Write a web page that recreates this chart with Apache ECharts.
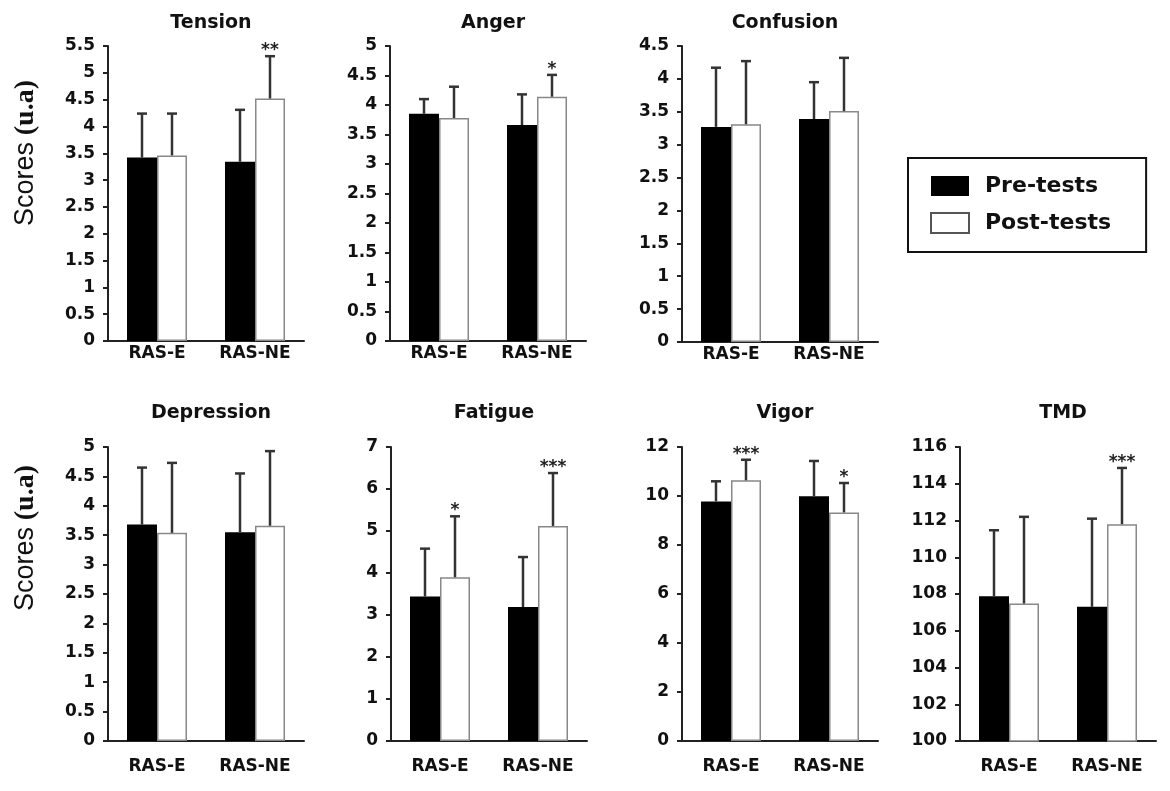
<!DOCTYPE html>
<html>
<head>
<meta charset="utf-8">
<script src="https://cdn.jsdelivr.net/npm/echarts@6/dist/echarts.min.js"></script>
<style>
  html, body { margin: 0; padding: 0; background: #fff; }
  #chart { width: 1170px; height: 791px; }
</style>
</head>
<body>
<div id="chart"></div>
<script>
// ---------- DATA ----------
const categories = ['RAS-E', 'RAS-NE'];
const seriesNames = ['Pre-tests', 'Post-tests'];
const panelTitles = ['Tension', 'Anger', 'Confusion', 'Depression', 'Fatigue', 'Vigor', 'TMD'];

const tensionPre = [3.42, 3.34];
const tensionPreSD = [0.82, 0.97];
const tensionPost = [3.46, 4.52];
const tensionPostSD = [0.78, 0.79];
const tensionSig = ['', '**'];

const angerPre = [3.85, 3.66];
const angerPreSD = [0.25, 0.52];
const angerPost = [3.78, 4.14];
const angerPostSD = [0.53, 0.37];
const angerSig = ['', '*'];

const confusionPre = [3.27, 3.39];
const confusionPreSD = [0.90, 0.56];
const confusionPost = [3.31, 3.51];
const confusionPostSD = [0.96, 0.81];
const confusionSig = ['', ''];

const depressionPre = [3.68, 3.55];
const depressionPreSD = [0.97, 1.00];
const depressionPost = [3.54, 3.66];
const depressionPostSD = [1.19, 1.27];
const depressionSig = ['', ''];

const fatiguePre = [3.44, 3.19];
const fatiguePreSD = [1.14, 1.19];
const fatiguePost = [3.90, 5.12];
const fatiguePostSD = [1.45, 1.26];
const fatigueSig = ['*', '***'];

const vigorPre = [9.78, 9.99];
const vigorPreSD = [0.82, 1.44];
const vigorPost = [10.64, 9.33];
const vigorPostSD = [0.84, 1.20];
const vigorSig = ['***', '*'];

const tmdPre = [107.88, 107.30];
const tmdPreSD = [3.59, 4.80];
const tmdPost = [107.48, 111.80];
const tmdPostSD = [4.72, 3.06];
const tmdSig = ['', '***'];

// y-axis tick settings per panel
const yMin = [0, 0, 0, 0, 0, 0, 100];
const yMax = [5.5, 5, 4.5, 5, 7, 12, 116];
const yStep = [0.5, 0.5, 0.5, 0.5, 1, 2, 2];

const yAxisNameMain = 'Scores';
const yAxisNameUnit = '(u.a)';

// ---------- LAYOUT ----------
const gridLeft = [108, 390, 682, 108, 391, 682, 960];
const gridTop = [46, 46, 46, 447, 447, 447, 447];
const gridW = 196;
const gridH = [295, 295, 296, 294, 294, 294, 294];
const BAR_W = 30;
const FONT = '"DejaVu Sans", sans-serif';

const panels = [
  [tensionPre, tensionPreSD, tensionPost, tensionPostSD, tensionSig],
  [angerPre, angerPreSD, angerPost, angerPostSD, angerSig],
  [confusionPre, confusionPreSD, confusionPost, confusionPostSD, confusionSig],
  [depressionPre, depressionPreSD, depressionPost, depressionPostSD, depressionSig],
  [fatiguePre, fatiguePreSD, fatiguePost, fatiguePostSD, fatigueSig],
  [vigorPre, vigorPreSD, vigorPost, vigorPostSD, vigorSig],
  [tmdPre, tmdPreSD, tmdPost, tmdPostSD, tmdSig]
];

function errRender(side, sig) {
  return function (params, api) {
    const idx = api.value(0);
    const mean = api.value(1);
    const top = api.value(2);
    const base = api.coord([idx, mean]);
    const tip = api.coord([idx, top]);
    const x = base[0] + side * BAR_W / 2;
    const st = { stroke: '#333', lineWidth: 2.5 };
    const children = [
      { type: 'line', shape: { x1: x, y1: base[1], x2: x, y2: tip[1] }, style: st },
      { type: 'line', shape: { x1: x - 5, y1: tip[1], x2: x + 5, y2: tip[1] }, style: st }
    ];
    const s = sig ? sig[params.dataIndex] : '';
    if (s) {
      children.push({
        type: 'text',
        style: {
          text: s, x: x, y: tip[1] + 3,
          textAlign: 'center', align: 'center',
          textVerticalAlign: 'bottom', verticalAlign: 'bottom',
          font: 'bold 17px ' + FONT, fill: '#222'
        }
      });
    }
    return { type: 'group', children: children };
  };
}

const grid = [], xAxis = [], yAxis = [], series = [], title = [];
panels.forEach(function (p, i) {
  const pre = p[0], preSD = p[1], post = p[2], postSD = p[3], sig = p[4];
  grid.push({ left: gridLeft[i], top: gridTop[i], width: gridW, height: gridH[i] });
  xAxis.push({
    type: 'category', gridIndex: i, data: categories,
    axisTick: { show: false },
    axisLine: { show: true, lineStyle: { color: '#222', width: 2 } },
    axisLabel: { fontFamily: FONT, fontWeight: 'bold', fontSize: 17, color: '#111', margin: i < 3 ? 4 : 17 }
  });
  yAxis.push({
    type: 'value', gridIndex: i, min: yMin[i], max: yMax[i], interval: yStep[i],
    axisLine: { show: true, lineStyle: { color: '#222', width: 2 } },
    axisTick: { show: true, length: 5, lineStyle: { color: '#222', width: 2 } },
    splitLine: { show: false },
    axisLabel: { fontFamily: FONT, fontWeight: 'bold', fontSize: 17, color: '#111', margin: 13 }
  });
  title.push({
    text: panelTitles[i],
    left: gridLeft[i] + gridW / 2,
    top: i < 3 ? 9 : 399,
    textAlign: 'center',
    textStyle: { fontFamily: FONT, fontWeight: 'bold', fontSize: 19, color: '#111' }
  });
  series.push({
    name: seriesNames[0], type: 'bar', xAxisIndex: i, yAxisIndex: i,
    data: pre, barWidth: BAR_W, barGap: '0%',
    itemStyle: { color: '#000' }, silent: true
  });
  series.push({
    name: seriesNames[1], type: 'bar', xAxisIndex: i, yAxisIndex: i,
    data: post, barWidth: BAR_W, barGap: '0%',
    itemStyle: { color: '#fff', borderColor: '#888', borderWidth: 1.5 }, silent: true
  });
  series.push({
    type: 'custom', xAxisIndex: i, yAxisIndex: i, z: 5, silent: true, clip: false,
    renderItem: errRender(-1, null),
    data: pre.map(function (v, k) { return [k, v, v + preSD[k]]; })
  });
  series.push({
    type: 'custom', xAxisIndex: i, yAxisIndex: i, z: 5, silent: true, clip: false,
    renderItem: errRender(1, sig),
    data: post.map(function (v, k) { return [k, v, v + postSD[k]]; })
  });
});

function yName(cx, cy) {
  return {
    type: 'text', x: cx, y: cy, rotation: Math.PI / 2,
    style: {
      text: '{a|' + yAxisNameMain + '}  {b|' + yAxisNameUnit + '}',
      textAlign: 'center', align: 'center',
      textVerticalAlign: 'middle', verticalAlign: 'middle',
      rich: {
        a: { fontSize: 27, fontFamily: '"Liberation Sans", Arial, sans-serif', fill: '#111', color: '#111' },
        b: { fontSize: 28, fontWeight: 'bold', fontFamily: '"Liberation Serif", serif', fill: '#111', color: '#111' }
      }
    }
  };
}

const chart = echarts.init(document.getElementById('chart'));
chart.setOption({
  backgroundColor: '#fff',
  animation: false,
  title: title,
  grid: grid,
  xAxis: xAxis,
  yAxis: yAxis,
  series: series,
  legend: {
    left: 908, top: 158, orient: 'vertical',
    selectedMode: false,
    borderColor: '#111', borderWidth: 2, borderRadius: 0,
    padding: [17, 35, 18, 22],
    itemGap: 15, itemWidth: 38, itemHeight: 20,
    icon: 'rect',
    textStyle: { fontFamily: FONT, fontWeight: 'bold', fontSize: 22, color: '#111', lineHeight: 20, padding: [0, 0, 0, 11] },
    data: [
      { name: seriesNames[0], itemStyle: { color: '#000', borderWidth: 0 } },
      { name: seriesNames[1], itemStyle: { color: '#fff', borderColor: '#555', borderWidth: 2 } }
    ]
  },
  graphic: [yName(26, 153), yName(26, 538)]
});
</script>
</body>
</html>
